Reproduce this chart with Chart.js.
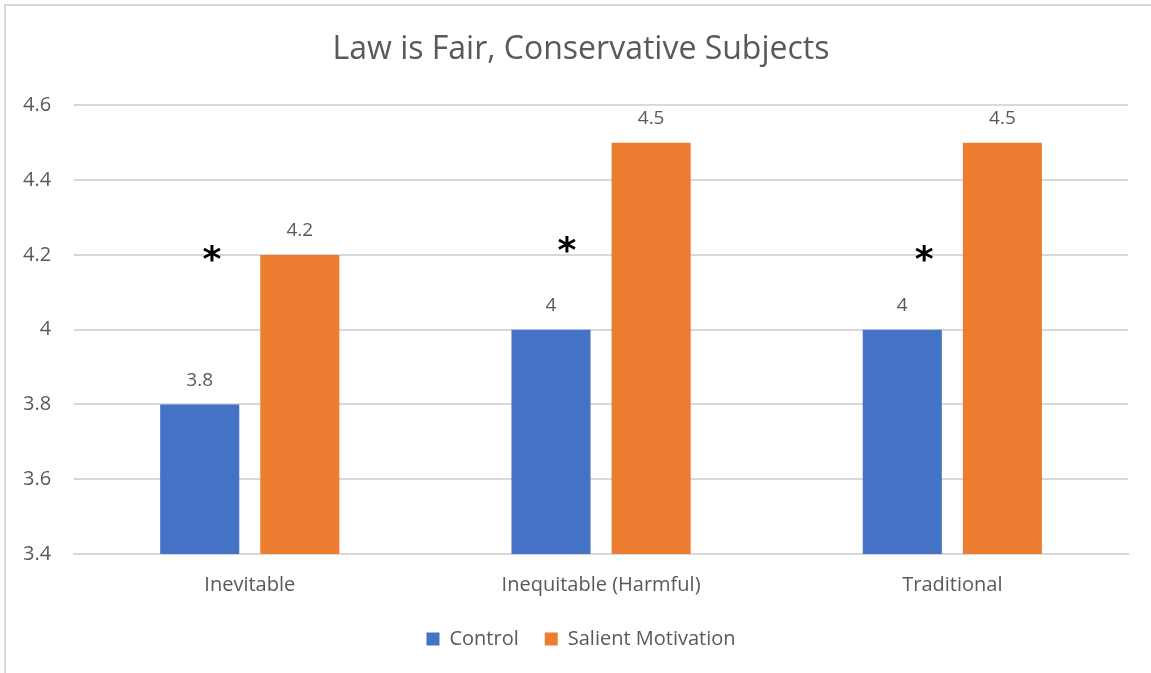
<!DOCTYPE html>
<html>
<head>
<meta charset="utf-8">
<script src="https://cdn.jsdelivr.net/npm/chart.js@4.4.0/dist/chart.umd.min.js"></script>
<style>
  html, body { margin: 0; padding: 0; background: #fff; overflow: hidden; }
  #frame {
    position: absolute; left: 4px; top: 4px;
    width: 1160px; height: 690px;
    border: 2px solid #d9d9d9; box-sizing: border-box;
  }
  #wrap { position: absolute; left: 0; top: 0; width: 1151px; height: 673px; }
</style>
</head>
<body>
<div id="frame"></div>
<div id="wrap"><canvas id="lawChart"></canvas></div>
<script>
// Categories and series
const categories = ['Inevitable', 'Inequitable (Harmful)', 'Traditional'];
const controlValues = [3.8, 4, 4];
const salientValues = [4.2, 4.5, 4.5];
const yTicks = [3.4, 3.6, 3.8, 4, 4.2, 4.4, 4.6];

// Significance markers: category index offset and value level
const starPositions = [-0.108, 0.903, 1.92];
const starLevels = [4.2, 4.224, 4.2];

const textColor = '#595959';
const fontFamily = '"Open Sans", "Noto Sans", sans-serif';

// Value labels above each bar
const valueLabels = {
    id: 'valueLabels',
    afterDatasetsDraw(chart) {
        const ctx = chart.ctx;
        ctx.save();
        ctx.fillStyle = textColor;
        ctx.font = '19px ' + fontFamily;
        ctx.textAlign = 'center';
        ctx.textBaseline = 'middle';
        chart.data.datasets.forEach((ds, i) => {
            chart.getDatasetMeta(i).data.forEach((bar, j) => {
                ctx.fillText(String(ds.data[j]), bar.x, bar.y - 24);
            });
        });
        ctx.restore();
    }
};

// Asterisks marking significant differences
const starMarks = {
    id: 'starMarks',
    afterDatasetsDraw(chart) {
        const ctx = chart.ctx;
        const x = chart.scales.x, y = chart.scales.y;
        ctx.save();
        ctx.fillStyle = '#000';
        ctx.font = 'bold 36px "DejaVu Sans", sans-serif';
        ctx.textAlign = 'center';
        ctx.textBaseline = 'middle';
        starPositions.forEach((p, i) => {
            ctx.fillText('*', x.getPixelForValue(p), y.getPixelForValue(starLevels[i]) + 7);
        });
        ctx.restore();
    }
};

const ctx = document.getElementById('lawChart').getContext('2d');
new Chart(ctx, {
    type: 'bar',
    data: {
        labels: categories,
        datasets: [{
            label: 'Control',
            data: controlValues,
            backgroundColor: '#4472c4',
            barPercentage: 0.79,
            categoryPercentage: 0.57
        }, {
            label: 'Salient Motivation',
            data: salientValues,
            backgroundColor: '#ed7d31',
            barPercentage: 0.79,
            categoryPercentage: 0.57
        }]
    },
    options: {
        responsive: true,
        maintainAspectRatio: false,
        animation: false,
        layout: { padding: { left: 11, right: 0, top: 10, bottom: 14 } },
        plugins: {
            title: {
                display: true,
                text: 'Law is Fair, Conservative Subjects',
                color: textColor,
                font: { family: fontFamily, size: 32, weight: 'normal' },
                padding: { top: 21, bottom: 36 }
            },
            legend: {
                position: 'bottom',
                labels: {
                    color: textColor,
                    font: { family: fontFamily, size: 20 },
                    boxWidth: 13,
                    boxHeight: 13,
                    padding: 26
                }
            },
            tooltip: { enabled: false }
        },
        scales: {
            x: {
                grid: { display: false },
                border: { color: '#d9d9d9', width: 2 },
                ticks: { color: textColor, font: { family: fontFamily, size: 20 }, padding: 11 },
                afterFit: axis => { axis.height -= 5; }
            },
            y: {
                min: 3.4,
                max: 4.6,
                afterBuildTicks: axis => { axis.ticks = yTicks.map(v => ({ value: v })); },
                afterFit: axis => { axis.width -= 11; },
                grid: { color: '#d9d9d9', lineWidth: 2, drawTicks: false },
                border: { display: false },
                ticks: {
                    color: textColor,
                    font: { family: fontFamily, size: 20 },
                    padding: 23,
                    callback: v => String(Math.round(v * 10) / 10)
                }
            },
            // empty right-hand margin so the title centres like the original
            yRight: {
                position: 'right',
                grid: { display: false, drawTicks: false },
                border: { display: false },
                ticks: { display: false },
                afterFit: axis => { axis.width = 23; }
            }
        }
    },
    plugins: [valueLabels, starMarks]
});
</script>
</body>
</html>
